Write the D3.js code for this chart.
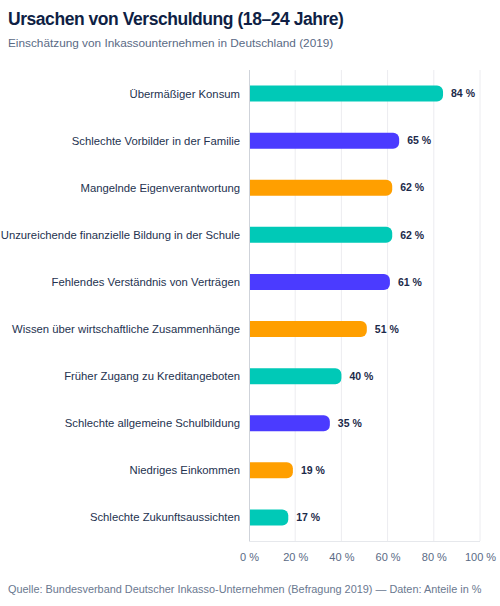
<!DOCTYPE html>
<html>
<head>
<meta charset="utf-8">
<script src="https://cdn.jsdelivr.net/npm/d3@7"></script>
<style>
  body { margin: 0; background: #fff; }
  svg { display: block; font-family: "Helvetica Neue", Helvetica, Arial, "Liberation Sans", sans-serif; }
</style>
</head>
<body>
<svg id="chart" width="500" height="606"></svg>
<script>
// Daten: Ursachen von Verschuldung (18–24 Jahre), Anteile in %
const causes = [
  "Übermäßiger Konsum",
  "Schlechte Vorbilder in der Familie",
  "Mangelnde Eigenverantwortung",
  "Unzureichende finanzielle Bildung in der Schule",
  "Fehlendes Verständnis von Verträgen",
  "Wissen über wirtschaftliche Zusammenhänge",
  "Früher Zugang zu Kreditangeboten",
  "Schlechte allgemeine Schulbildung",
  "Niedriges Einkommen",
  "Schlechte Zukunftsaussichten"
];
const shares = [84, 65, 62, 62, 61, 51, 40, 35, 19, 17];
const ticks = [0, 20, 40, 60, 80, 100];
const palette = ["#00c9b7", "#4b3bff", "#ff9f00"];

const svg = d3.select("#chart");
const margin = { top: 70, right: 20, bottom: 65, left: 249 };
const W = 500, H = 606;
const innerW = 480 - margin.left;
const innerH = H - margin.top - margin.bottom;

const x = d3.scaleLinear().domain([0, 100]).range([0, innerW]);
const y = d3.scaleBand().domain(causes).range([0, innerH]).paddingInner(0.66).paddingOuter(0.33);

// Titel
svg.append("text").attr("x", 8).attr("y", 25)
  .attr("font-size", 17.5).attr("font-weight", 700).attr("fill", "#0f1f45")
  .attr("letter-spacing", -0.45)
  .text("Ursachen von Verschuldung (18–24 Jahre)");
svg.append("text").attr("x", 8).attr("y", 47)
  .attr("font-size", 11.8).attr("fill", "#5a6a85")
  .text("Einschätzung von Inkassounternehmen in Deutschland (2019)");

const g = svg.append("g").attr("transform", `translate(${margin.left},${margin.top})`);

// Gitter
g.append("g").selectAll("line").data(ticks.slice(1)).join("line")
  .attr("x1", (d) => x(d)).attr("x2", (d) => x(d))
  .attr("y1", 0).attr("y2", innerH)
  .attr("stroke", "#ececf0").attr("stroke-width", 1);

// Balken (rechts abgerundet)
const bh = y.bandwidth();
const r = Math.min(6, bh / 2);
g.append("g").selectAll("path").data(causes).join("path")
  .attr("fill", (d, i) => palette[i % 3])
  .attr("d", (d, i) => {
    const w = x(shares[i]), t = y(d);
    return `M0,${t}H${w - r}A${r},${r} 0 0 1 ${w},${t + r}V${t + bh - r}A${r},${r} 0 0 1 ${w - r},${t + bh}H0Z`;
  });

// Werte
g.append("g").selectAll("text").data(causes).join("text")
  .attr("x", (d, i) => x(shares[i]) + 8)
  .attr("y", (d) => y(d) + bh / 2)
  .attr("dy", "0.35em")
  .attr("font-size", 10.5).attr("font-weight", 700).attr("fill", "#1c2a4a")
  .text((d, i) => shares[i] + " %");

// Kategorien
g.append("g").selectAll("text").data(causes).join("text")
  .attr("x", -9)
  .attr("y", (d) => y(d) + bh / 2)
  .attr("dy", "0.35em")
  .attr("text-anchor", "end")
  .attr("font-size", 11.3).attr("fill", "#24324f")
  .text((d) => d);

// Achsen
g.append("line").attr("x1", 0.5).attr("x2", 0.5).attr("y1", 0).attr("y2", innerH)
  .attr("stroke", "#cfd3da");
g.append("line").attr("x1", 0).attr("x2", innerW).attr("y1", innerH + 0.5).attr("y2", innerH + 0.5)
  .attr("stroke", "#e6e8ec");

const xAxis = g.append("g").attr("transform", `translate(0,${innerH})`)
  .call(d3.axisBottom(x).tickValues(ticks).tickFormat((d) => d + " %").tickSize(0).tickPadding(12));
xAxis.select(".domain").remove();
xAxis.selectAll("text").attr("font-size", 11).attr("fill", "#5a6a85")
  .attr("font-family", "inherit");

// Quelle
svg.append("text").attr("x", 8).attr("y", 593)
  .attr("font-size", 10.9).attr("fill", "#6a7890")
  .text("Quelle: Bundesverband Deutscher Inkasso-Unternehmen (Befragung 2019) — Daten: Anteile in %");
</script>
</body>
</html>
